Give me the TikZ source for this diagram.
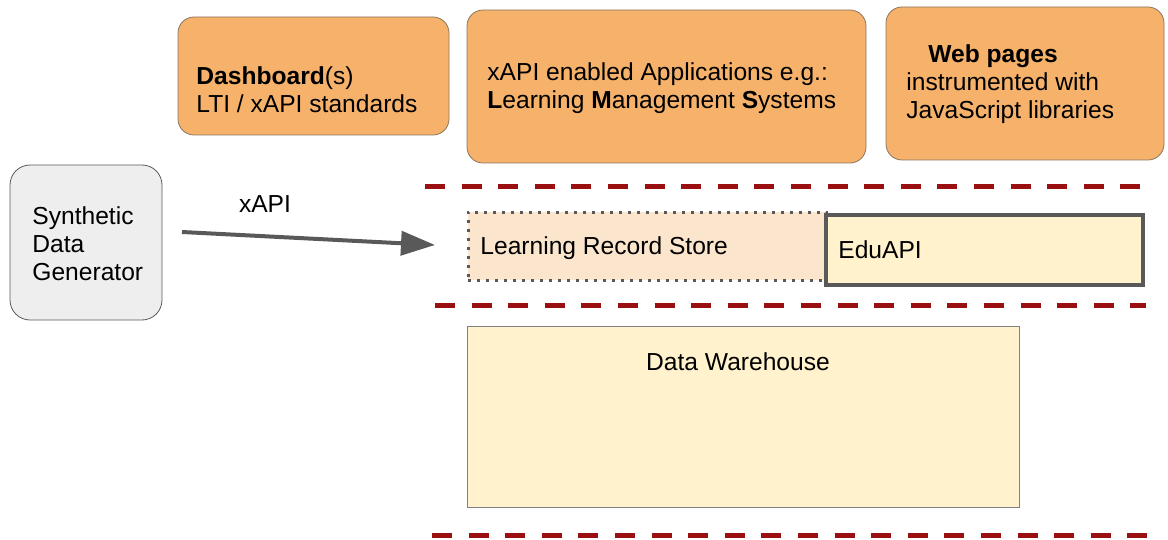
\documentclass[tikz,border=0pt]{standalone}
\usepackage{fontspec}
\setmainfont{Liberation Sans}
\usetikzlibrary{calc, arrows.meta}

\definecolor{apporange}{HTML}{F6B26B}
\definecolor{appedge}{HTML}{8A7560}
\definecolor{lrsfill}{HTML}{FCE5CD}
\definecolor{warefill}{HTML}{FFF2CC}
\definecolor{genfill}{HTML}{EEEEEE}
\definecolor{layerred}{HTML}{9A0F0F}
\definecolor{arrowgray}{HTML}{595959}

\begin{document}
\begin{tikzpicture}[x=0.5pt, y=-0.5pt,
  font=\fontsize{12.3}{14}\selectfont,
  appbox/.style={draw=appedge, fill=apporange, rounded corners=8pt},
  genbox/.style={draw=arrowgray, fill=genfill, rounded corners=10pt},
  lrsbox/.style={draw=arrowgray, fill=lrsfill, line width=1.5pt, dash pattern=on 1.5pt off 3pt},
  edubox/.style={draw=arrowgray, fill=warefill, line width=2pt},
  warebox/.style={draw=gray, fill=warefill, line width=0.5pt},
  txt/.style={anchor=west, align=left, inner sep=0pt},
  layer/.style={draw=layerred, line width=2.5pt, dash pattern=on 10pt off 8.3pt}]

% pixel size
\newcommand{\px}{0.5pt}

\useasboundingbox (0,0) rectangle (1168,540);

% Applications on top
\node[appbox, minimum width=271*\px, minimum height=118*\px] (dash) at (313.5, 76) {};
\node[appbox, minimum width=399*\px, minimum height=153*\px] (apps) at (666.5, 86.5) {};
\node[appbox, minimum width=278*\px, minimum height=153*\px] (web) at (1025, 83.5) {};

\node[txt] (dashtxt) at (196, 90) {\textbf{Dashboard}(s)\\LTI / xAPI standards};
\node[txt] (appstxt) at (487, 88) {xAPI enabled Applications e.g.:\\\textbf{L}earning \textbf{M}anagement \textbf{S}ystems};
\node[txt] (webtxt) at (906, 84) {\hspace*{11pt}\textbf{Web pages}\\instrumented with\\JavaScript libraries};

% Generator
\node[genbox, minimum width=152*\px, minimum height=155*\px] (gen) at (86, 242.5) {};
\node[txt] (gentxt) at (32, 244) {Synthetic\\Data\\Generator};

% Layers
\coordinate (L1a) at (425, 187);
\coordinate (L1b) at (1142, 187);
\coordinate (L2a) at (435, 305);
\coordinate (L2b) at (1146, 305);
\coordinate (L3a) at (432, 535);
\coordinate (L3b) at (1150, 535);
\draw[layer] (L1a) -- (L1b);
\draw[layer] (L2a) -- (L2b);
\draw[layer] (L3a) -- (L3b);

% Stores
\node[lrsbox, minimum width=358*\px, minimum height=68*\px] (lrs) at (647, 246) {};
\node[edubox, minimum width=317*\px, minimum height=70*\px] (edu) at (984.5, 250) {};
\node[warebox, minimum width=552*\px, minimum height=181*\px] (ware) at (743, 416.5) {};

\node[txt] (lrstxt) at (480, 248) {Learning Record Store};
\node[txt] (edutxt) at (838, 250) {EduAPI};
\node (waretxt) at (738, 362) {Data Warehouse};

% xAPI arrow
\coordinate (AS) at (182, 232);
\coordinate (AE) at (435, 245);
\draw[arrowgray, line width=2pt, -{Triangle[length=17pt, width=12pt]}] (AS) -- (AE);
\node (xapi) at (265, 204) {xAPI};

\end{tikzpicture}
\end{document}
